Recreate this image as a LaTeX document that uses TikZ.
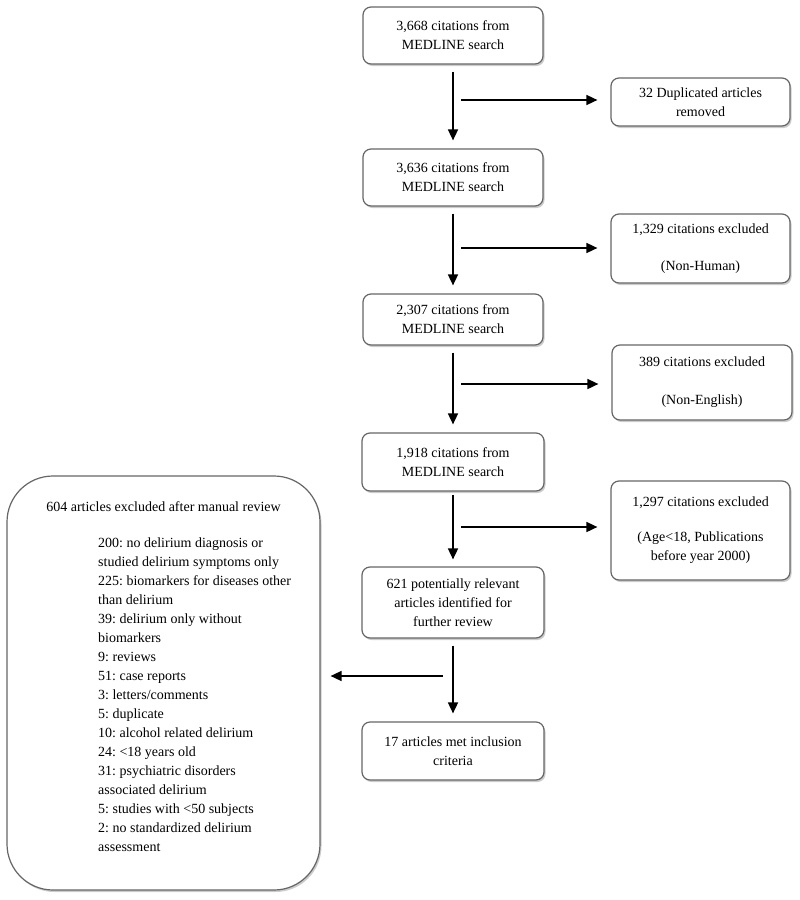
\documentclass[tikz,border=0pt]{standalone}
\usepackage{fontspec}
\setmainfont{Liberation Serif}
\usepackage{tikz}
\usetikzlibrary{arrows.meta,shadows}
\frenchspacing

\begin{document}
\begin{tikzpicture}[x=1pt,y=-1pt,
  box/.style={draw=black!60,line width=1.2pt,rounded corners=8pt,fill=white,
    align=center,inner sep=2pt,
    drop shadow={shadow xshift=1.5pt,shadow yshift=-2pt,fill=black!40}},
  bigbox/.style={box,rounded corners=46pt},
  flow/.style={line width=1.6pt,-{Triangle[length=11pt,width=10pt]}},
  font=\fontsize{14}{19}\selectfont]
\useasboundingbox (0,0) rectangle (800,900);

% main column
\node[box,minimum width=180pt,minimum height=57pt] (a) at (453,35.5) {3,668 citations from\\MEDLINE search};
\node[box,minimum width=180pt,minimum height=57pt] (b) at (453,177.5) {3,636 citations from\\MEDLINE search};
\node[box,minimum width=180pt,minimum height=51pt] (c) at (453,319.5) {2,307 citations from\\MEDLINE search};
\node[box,minimum width=182pt,minimum height=58pt] (d) at (453,462) {1,918 citations from\\MEDLINE search};
\node[box,minimum width=182pt,minimum height=71pt] (e) at (453,602.5) {621 potentially relevant\\articles identified for\\further review};
\node[box,minimum width=182pt,minimum height=58pt] (f) at (453,751) {17 articles met inclusion\\criteria};

% excluded
\node[box,minimum width=179pt,minimum height=48pt] (dup) at (700.5,102) {32 Duplicated articles\\removed};
\node[box,minimum width=179pt,minimum height=69pt] (hum) at (700.5,248.5) {1,329 citations excluded\\[18pt](Non-Human)};
\node[box,minimum width=180pt,minimum height=75pt] (eng) at (702,382.5) {389 citations excluded\\[19pt](Non-English)};
\node[box,minimum width=179pt,minimum height=99pt] (age) at (700.5,530.5) {1,297 citations excluded\\[16pt](Age<18, Publications\\before year 2000)};

% manual review
\node[bigbox,minimum width=313pt,minimum height=414pt] (rev) at (163.5,683) {};
\node[anchor=base] (revhead) at (163.5,511) {604 articles excluded after manual review};
\node[anchor=north west,align=left,inner sep=0pt] (revlist) at (98,538) {200: no delirium diagnosis or\\
studied delirium symptoms only\\
225: biomarkers for diseases other\\
than delirium\\
39: delirium only without\\
biomarkers\\
9: reviews\\
51: case reports\\
3: letters/comments\\
5: duplicate\\
10: alcohol related delirium\\
24: <18 years old\\
31: psychiatric disorders\\
associated delirium\\
5: studies with <50 subjects\\
2: no standardized delirium\\
assessment};

% arrows
\draw[flow,shorten <=7pt,shorten >=8pt] (a) -- (b);
\draw[flow,shorten <=7pt,shorten >=8pt] (b) -- (c);
\draw[flow,shorten <=7pt,shorten >=8pt] (c) -- (d);
\draw[flow,shorten <=3pt,shorten >=7pt] (d) -- (e);
\draw[flow,shorten <=7pt,shorten >=8pt] (e) -- (f);

\coordinate (h1) at (461,100);
\coordinate (h2) at (461,248);
\coordinate (h3) at (461,384);
\coordinate (h4) at (461,527);
\coordinate (h5) at (443,676);
\draw[flow,shorten >=13pt] (h1) -- (h1 -| dup.west);
\draw[flow,shorten >=13pt] (h2) -- (h2 -| hum.west);
\draw[flow,shorten >=13pt] (h3) -- (h3 -| eng.west);
\draw[flow,shorten >=13pt] (h4) -- (h4 -| age.west);
\draw[flow,shorten >=10pt] (h5) -- (h5 -| rev.east);

\end{tikzpicture}
\end{document}
